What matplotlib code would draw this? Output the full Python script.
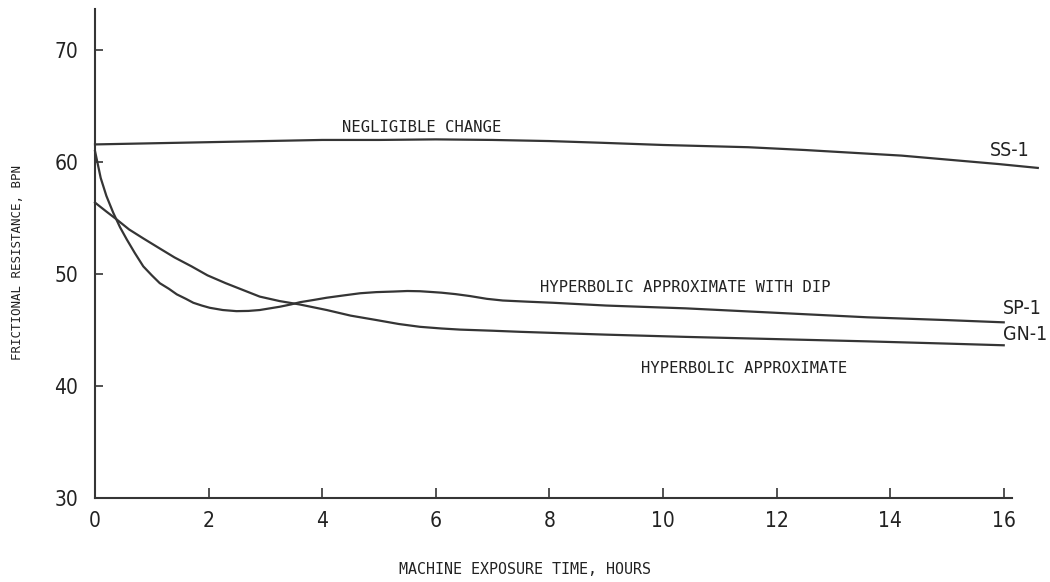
import matplotlib

matplotlib.use("Agg")
import matplotlib.pyplot as plt

# 机器暴露时间 (小时) 与摩擦阻力 (BPN) 的读数
ss1_hours = [0, 1, 2, 3, 4, 5, 6, 7, 8, 8.9, 10, 11.5, 12.5, 14.2, 15.9, 16.6]
ss1_bpn = [61.6, 61.7, 61.8, 61.9, 62.0, 62.0, 62.05, 62.0, 61.9, 61.75, 61.55,
           61.35, 61.1, 60.6, 59.85, 59.5]

sp1_hours = [0, 0.05, 0.1, 0.2, 0.32, 0.44, 0.56, 0.7, 0.85, 1.0, 1.14, 1.3, 1.44,
             1.6, 1.73, 1.88, 2.02, 2.25, 2.49, 2.7, 2.9, 3.08, 3.26, 3.45, 3.61,
             3.85, 4.08, 4.37, 4.67, 4.95, 5.25, 5.5, 5.72, 5.9, 6.1, 6.35, 6.6,
             6.9, 7.18, 7.6, 8.06, 9, 10.4, 12, 13.6, 15, 16]
sp1_bpn = [61.0, 59.8, 58.6, 57.0, 55.5, 54.2, 53.1, 51.9, 50.7, 49.9, 49.2, 48.7,
           48.2, 47.8, 47.45, 47.2, 47.0, 46.8, 46.7, 46.72, 46.8, 46.95, 47.1,
           47.3, 47.5, 47.7, 47.9, 48.1, 48.3, 48.4, 48.45, 48.5, 48.48, 48.42,
           48.35, 48.22, 48.05, 47.8, 47.65, 47.55, 47.45, 47.2, 46.95, 46.55,
           46.15, 45.9, 45.7]

gn1_hours = [0, 0.2, 0.38, 0.6, 0.85, 1.14, 1.4, 1.7, 1.98, 2.3, 2.6, 2.9, 3.25,
             3.6, 4.08, 4.5, 4.96, 5.35, 5.72, 6.1, 6.43, 7, 7.5, 9, 10.4, 12,
             13.6, 15, 16]
gn1_bpn = [56.4, 55.6, 54.9, 54.0, 53.2, 52.3, 51.5, 50.7, 49.9, 49.2, 48.6, 48.0,
           47.6, 47.3, 46.8, 46.3, 45.9, 45.55, 45.3, 45.15, 45.05, 44.95, 44.85,
           44.6, 44.4, 44.2, 44.0, 43.8, 43.65]

x_ticks = [0, 2, 4, 6, 8, 10, 12, 14, 16]
y_ticks = [30, 40, 50, 60, 70]

ink = "#353535"
narrow = ["DejaVu Sans"]
mono = ["DejaVu Sans Mono"]

fig = plt.figure(figsize=(10.5, 5.82), dpi=100)
ax = fig.add_axes([0.0905, 0.1443, 0.873, 0.8402])

# 三条曲线
ax.plot(ss1_hours, ss1_bpn, color=ink, linewidth=1.6, clip_on=False)
ax.plot(sp1_hours, sp1_bpn, color=ink, linewidth=1.6, clip_on=False)
ax.plot(gn1_hours, gn1_bpn, color=ink, linewidth=1.6, clip_on=False)

ax.set_xlim(0, 16.14)
ax.set_ylim(30, 73.7)

# 坐标轴样式: 只保留左侧和底部, 刻度朝内
for side in ("top", "right"):
    ax.spines[side].set_visible(False)
for side in ("left", "bottom"):
    ax.spines[side].set_color(ink)
    ax.spines[side].set_linewidth(1.5)

ax.set_xticks(x_ticks)
ax.set_yticks(y_ticks)
ax.tick_params(axis="x", direction="in", length=7, width=1.2, color=ink, pad=9)
ax.tick_params(axis="y", direction="in", length=6, width=1.2, color=ink, pad=12)
for lbl in ax.get_xticklabels() + ax.get_yticklabels():
    lbl.set_family(narrow)
    lbl.set_stretch("condensed")
    lbl.set_fontsize(15)
    lbl.set_color("#222222")

# 曲线注释
ax.text(5.76, 63.1, "NEGLIGIBLE CHANGE", family=mono, fontsize=11.2,
        ha="center", va="center", color="#222222")
ax.text(7.83, 48.8, "HYPERBOLIC APPROXIMATE WITH DIP", family=mono, fontsize=11.2,
        ha="left", va="center", color="#222222")
ax.text(9.61, 41.6, "HYPERBOLIC APPROXIMATE", family=mono, fontsize=11.2,
        ha="left", va="center", color="#222222")

# 曲线名称
for name, hx, hy in (("SS-1", 15.76, 61.1), ("SP-1", 15.99, 46.9),
                     ("GN-1", 15.99, 44.6)):
    ax.text(hx, hy, name, family=narrow, stretch="condensed", fontsize=14,
            ha="left", va="center", color="#222222", clip_on=False)

# 坐标轴标题
fig.text(525 / 1050, 1 - 569 / 582, "MACHINE EXPOSURE TIME, HOURS", family=mono,
         fontsize=10.8, ha="center", va="center", color="#222222")
fig.text(18 / 1050, 1 - 262 / 582, "FRICTIONAL RESISTANCE, BPN", family=mono,
         fontsize=9, rotation=90, ha="center", va="center", color="#222222")

fig.savefig("out.png", dpi=100)
